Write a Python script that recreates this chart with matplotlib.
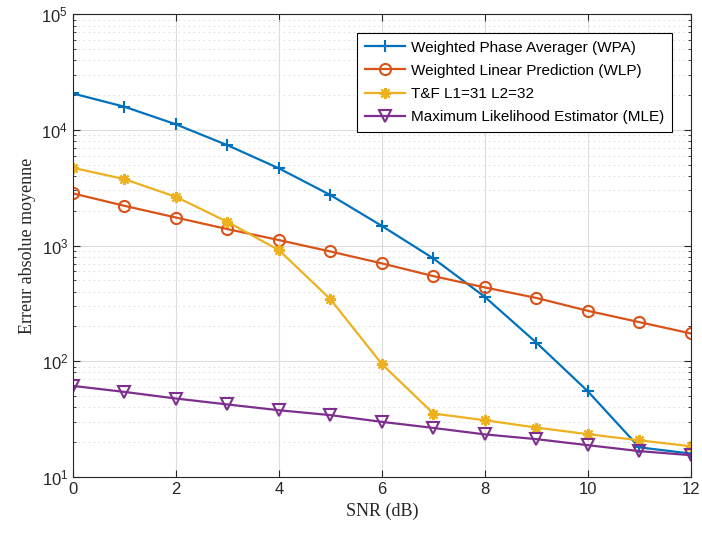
import numpy as np
import matplotlib
matplotlib.use("Agg")
import matplotlib.pyplot as plt
from matplotlib.ticker import LogLocator, NullFormatter

# SNR in dB
snr = [0, 1, 2, 3, 4, 5, 6, 7, 8, 9, 10, 11, 12]

wpa = [20700, 15900, 11200, 7390, 4660, 2740, 1480, 775, 360, 145, 55, 18.0, 15.9]
wlp = [2830, 2210, 1750, 1390, 1117, 890, 702, 545, 435, 353, 273, 218, 174]
tf = [4710, 3760, 2640, 1605, 914, 344, 94.5, 35.3, 30.9, 26.7, 23.4, 20.7, 18.4]
mle = [61.2, 54.3, 47.6, 42.3, 37.7, 34.2, 29.9, 26.5, 23.3, 21.2, 18.8, 16.7, 15.4]

labels = [
    "Weighted Phase Averager (WPA)",
    "Weighted Linear Prediction (WLP)",
    "T&F L1=31 L2=32",
    "Maximum Likelihood Estimator (MLE)",
]
colors = ["#0072BD", "#D95319", "#EDB120", "#7E2F8E"]
# matlab-like markers: plus, circle, asterisk, down triangle
markers = ["+", "o", (8, 2, 0), "v"]

plt.rcParams["font.family"] = ["Liberation Sans", "DejaVu Sans"]

fig = plt.figure(figsize=(7.02, 5.34), dpi=100)
ax = fig.add_axes([0.104, 0.107, 0.880, 0.866])

for ys, lab, c, m in zip([wpa, wlp, tf, mle], labels, colors, markers):
    ax.semilogy(snr, ys, color=c, marker=m, markersize=8, markeredgewidth=1.5,
                markerfacecolor="none", linewidth=1.6, label=lab)

ax.set_xlim(0, 12)
ax.set_ylim(10, 1e5)
ax.set_xticks(range(0, 13, 2))
ax.yaxis.set_major_locator(LogLocator(base=10, numticks=10))
ax.yaxis.set_minor_locator(LogLocator(base=10, subs=np.arange(2, 10), numticks=20))
ax.yaxis.set_minor_formatter(NullFormatter())

ax.grid(True, which="major", color="#dcdcdc", linewidth=0.8, linestyle="-")
ax.grid(True, which="minor", axis="y", color="#e0e0e0", linewidth=0.8, linestyle=(0, (1.5, 3)))
ax.set_axisbelow(True)

ax.tick_params(which="both", direction="in", top=True, right=True, colors="#262626",
               labelsize=12)
ax.tick_params(which="major", length=5)
ax.tick_params(which="minor", length=2.5)
for s in ax.spines.values():
    s.set_color("#262626")
    s.set_linewidth(0.8)

ax.set_xlabel("SNR (dB)", family="Liberation Serif", fontsize=13, color="#262626")
ax.set_ylabel("Erreur absolue moyenne", family="Liberation Serif", fontsize=13, color="#262626")

leg = ax.legend(loc="upper right", bbox_to_anchor=(0.969, 0.96), fontsize=11,
                fancybox=False, framealpha=1, edgecolor="black",
                handlelength=2.6, borderpad=0.5, labelspacing=0.6, handletextpad=0.4,
                borderaxespad=0)
leg.get_frame().set_linewidth(0.8)

fig.savefig("out.png", dpi=100)
